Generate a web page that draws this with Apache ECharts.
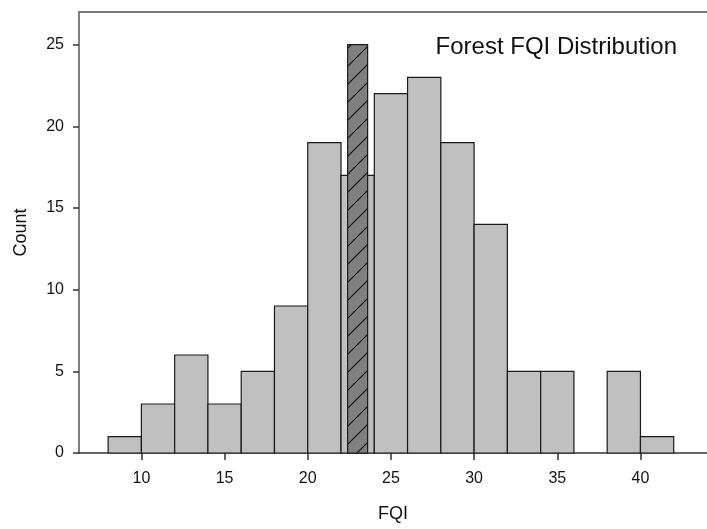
<!DOCTYPE html>
<html>
<head>
<meta charset="utf-8">
<script src="https://cdn.jsdelivr.net/npm/echarts@6/dist/echarts.min.js"></script>
<style>
  html, body { margin: 0; padding: 0; background: #fff; }
  #chart { width: 707px; height: 529px; }
</style>
</head>
<body>
<div id="chart"></div>
<script>
// histogram bins (FQI) and counts
const binStart = [8, 10, 12, 14, 16, 18, 20, 22, 24, 26, 28, 30, 32, 34, 36, 38, 40];
const binEnd   = [10, 12, 14, 16, 18, 20, 22, 24, 26, 28, 30, 32, 34, 36, 38, 40, 42];
const counts   = [1, 3, 6, 3, 5, 9, 19, 17, 22, 23, 19, 14, 5, 5, 0, 5, 1];

// highlighted (hatched) bar
const markStart = [22.4];
const markEnd = [23.6];
const markCount = [25];

const xTicks = [10, 15, 20, 25, 30, 35, 40];
const yTicks = [0, 5, 10, 15, 20, 25];

// hatch pattern for the highlighted bar
const hatch = document.createElement('canvas');
hatch.width = 18;
hatch.height = 18;
const hc = hatch.getContext('2d');
hc.fillStyle = '#808080';
hc.fillRect(0, 0, 18, 18);
hc.strokeStyle = '#111';
hc.lineWidth = 1.2;
hc.beginPath();
hc.moveTo(-2, 20); hc.lineTo(20, -2);
hc.moveTo(-2, 2); hc.lineTo(2, -2);
hc.moveTo(16, 20); hc.lineTo(20, 16);
hc.stroke();

const chart = echarts.init(document.getElementById('chart'));

const barRender = (fill) => (params, api) => {
  const p0 = api.coord([api.value(0), api.value(2)]);
  const p1 = api.coord([api.value(1), 0]);
  if (api.value(2) <= 0) return null;
  return {
    type: 'rect',
    shape: { x: p0[0], y: p0[1], width: p1[0] - p0[0], height: p1[1] - p0[1] },
    style: { fill: fill, stroke: '#1a1a1a', lineWidth: 1.2 }
  };
};

chart.setOption({
  animation: false,
  title: {
    text: 'Forest FQI Distribution',
    right: 25,
    top: 30,
    textStyle: { fontFamily: 'Liberation Sans', fontSize: 24, fontWeight: 'normal', color: '#111' }
  },
  grid: { left: 79, top: 12, width: 635, height: 441 },
  xAxis: [
    {
      type: 'value',
      min: 6.25,
      max: 44,
      name: 'FQI',
      nameLocation: 'middle',
      nameGap: 52,
      nameTextStyle: { fontFamily: 'Liberation Sans', fontSize: 18, color: '#111' },
      axisLine: { show: true, onZero: false, lineStyle: { color: '#333', width: 1.5 } },
      axisTick: { show: true, customValues: xTicks, length: 7, lineStyle: { color: '#333', width: 1.5 } },
      axisLabel: { customValues: xTicks, margin: 18, fontFamily: 'Liberation Sans', fontSize: 16, color: '#111' },
      splitLine: { show: false }
    },
    {
      type: 'value',
      position: 'top',
      min: 6.25,
      max: 44,
      axisLine: { show: true, onZero: false, lineStyle: { color: '#777', width: 2 } },
      axisTick: { show: false },
      axisLabel: { show: false },
      splitLine: { show: false }
    }
  ],
  yAxis: {
    type: 'value',
    min: 0,
    max: 27,
    name: 'Count',
    nameLocation: 'middle',
    nameGap: 49,
    nameTextStyle: { fontFamily: 'Liberation Sans', fontSize: 18, color: '#111' },
    axisLine: { show: true, lineStyle: { color: '#555', width: 1.5 } },
    axisTick: { show: true, customValues: yTicks, length: 6, lineStyle: { color: '#333', width: 1.5 } },
    axisLabel: { customValues: yTicks, margin: 15, fontFamily: 'Liberation Sans', fontSize: 16, color: '#111' },
    splitLine: { show: false }
  },
  series: [
    {
      type: 'custom',
      renderItem: barRender('#c0c0c0'),
      encode: { x: [0, 1], y: 2 },
      data: binStart.map((s, i) => [s, binEnd[i], counts[i]]),
      z: 2
    },
    {
      type: 'custom',
      renderItem: barRender({ image: hatch, repeat: 'repeat' }),
      encode: { x: [0, 1], y: 2 },
      data: markStart.map((s, i) => [s, markEnd[i], markCount[i]]),
      z: 3
    }
  ]
});
</script>
</body>
</html>
